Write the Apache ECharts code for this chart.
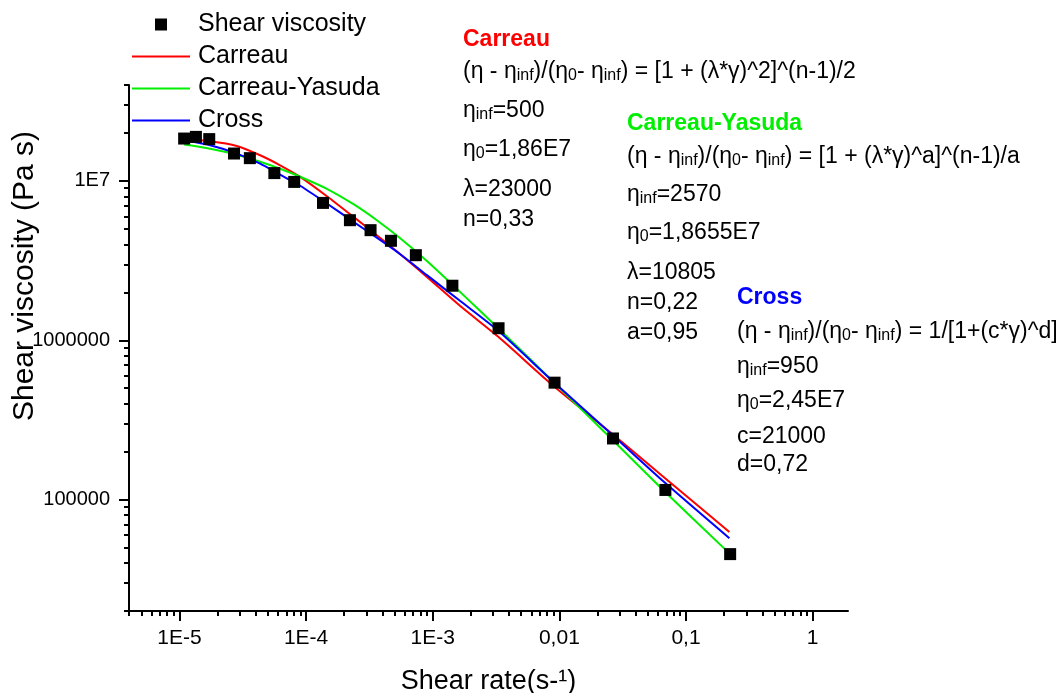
<!DOCTYPE html>
<html>
<head>
<meta charset="utf-8">
<script src="https://cdn.jsdelivr.net/npm/echarts@6/dist/echarts.min.js"></script>
<style>
  html, body { margin: 0; padding: 0; background: #fff; }
  #chart { width: 1056px; height: 693px; }
</style>
</head>
<body>
<div id="chart"></div>
<script>
// measured points
var shearRate = [1.09e-5, 1.35e-5, 1.72e-5, 2.70e-5, 3.60e-5, 5.62e-5, 8.06e-5, 1.36e-4, 2.22e-4,
  3.23e-4, 4.68e-4, 7.36e-4, 1.43e-3, 3.31e-3, 9.16e-3, 2.65e-2, 6.87e-2, 0.223];
var shearViscosity = [1.845e7, 1.89e7, 1.83e7, 1.486e7, 1.39e7, 1.12e7, 9.86e6, 7.28e6, 5.67e6,
  4.91e6, 4.21e6, 3.42e6, 2.20e6, 1.19e6, 5.42e5, 2.42e5, 1.15e5, 4.55e4];

// fit curves
var fitRate = [1.09e-5, 1.75e-5, 2.84e-5, 4.34e-5, 6.24e-5, 8.98e-5, 1.46e-4, 2.37e-4, 3.62e-4,
  5.54e-4, 9.0e-4, 1.65e-3, 3.31e-3, 9.0e-3, 2.68e-2, 6.65e-2, 0.22];
var carreau = [1.825e7, 1.774e7, 1.658e7, 1.449e7, 1.254e7, 1.06e7, 8.02e6, 5.95e6, 4.566e6,
  3.47e6, 2.50e6, 1.639e6, 1.047e6, 5.16e5, 2.544e5, 1.388e5, 6.27e4];
var carreauYasuda = [1.691e7, 1.592e7, 1.46e7, 1.319e7, 1.193e7, 1.063e7, 8.93e6, 7.145e6, 5.67e6,
  4.37e6, 3.14e6, 2.005e6, 1.184e6, 5.47e5, 2.333e5, 1.142e5, 4.60e4];
var cross = [1.80e7, 1.674e7, 1.485e7, 1.285e7, 1.095e7, 9.33e6, 7.22e6, 5.53e6, 4.405e6,
  3.47e6, 2.564e6, 1.762e6, 1.142e6, 5.47e5, 2.508e5, 1.30e5, 5.73e4];

// axes
var xMajor = [1e-5, 1e-4, 1e-3, 1e-2, 1e-1, 1];
var xTickLabels = ['1E-5', '1E-4', '1E-3', '0,01', '0,1', '1'];
var yMajor = [1e5, 1e6, 1e7];
var yTickLabels = ['100000', '1000000', '1E7'];
var xMin = 4e-6, xMax = 1.9, yMin = 2e4, yMax = 4e7;

function minorTicks(lo, hi) {
  var out = [];
  for (var e = -8; e <= 8; e++) {
    for (var k = 2; k <= 9; k++) {
      var v = k * Math.pow(10, e);
      if (v >= lo * 0.999 && v <= hi * 1.001) out.push(v);
    }
  }
  return out;
}
var xMinor = minorTicks(xMin, xMax);
var yMinor = minorTicks(yMin, yMax);

function pairs(xs, ys) {
  return xs.map(function (x, i) { return [x, ys[i]]; });
}

var chart = echarts.init(document.getElementById('chart'));
var font = "'Liberation Sans', Arial, sans-serif";

var axisLine = { show: true, lineStyle: { color: '#000', width: 2 } };

// annotation blocks: [text, y], _{..} marks a subscript
var carreauText = [
  ['(η - η_{inf})/(η_{0}- η_{inf}) = [1 + (λ*γ)^2]^(n-1)/2', 72],
  ['η_{inf}=500', 111],
  ['η_{0}=1,86E7', 150],
  ['λ=23000', 190],
  ['n=0,33', 220]
];
var yasudaText = [
  ['(η - η_{inf})/(η_{0}- η_{inf}) = [1 + (λ*γ)^a]^(n-1)/a', 157],
  ['η_{inf}=2570', 195],
  ['η_{0}=1,8655E7', 233],
  ['λ=10805', 273],
  ['n=0,22', 303],
  ['a=0,95', 333]
];
var crossText = [
  ['(η - η_{inf})/(η_{0}- η_{inf}) = 1/[1+(c*γ)^d]', 332],
  ['η_{inf}=950', 367],
  ['η_{0}=2,45E7', 401],
  ['c=21000', 437],
  ['d=0,72', 465]
];

function toRich(str) {
  var parts = str.split(/_\{([^}]*)\}/);
  return parts.map(function (p, i) {
    if (!p) return '';
    return i % 2 ? '{s|' + p + '}' : '{m|' + p + '}';
  }).join('');
}

var richStyle = {
  m: { fontSize: 23, fontFamily: font, lineHeight: 24, verticalAlign: 'top', color: '#000' },
  s: { fontSize: 16, fontFamily: font, lineHeight: 10, padding: [16, 0, 0, 0], verticalAlign: 'bottom', color: '#000' }
};

function block(x, title, color, titleY, lines) {
  var els = [{
    type: 'text', x: x, y: titleY,
    style: { text: title, fill: color, font: 'bold 23px ' + font, verticalAlign: 'middle' }
  }];
  lines.forEach(function (l) {
    els.push({
      type: 'text', x: x, y: l[1],
      style: { text: toRich(l[0]), fill: '#000', font: '23px ' + font, verticalAlign: 'middle', rich: richStyle }
    });
  });
  return els;
}

var hideDot = { opacity: 0 };

var option = {
  backgroundColor: '#fff',
  animation: false,
  grid: { left: 129, top: 85, right: 208, bottom: 82, outerBoundsMode: 'none' },
  legend: {
    orient: 'vertical', left: 126, top: 7,
    itemWidth: 58, itemHeight: 15, itemGap: 7,
    textStyle: { fontFamily: font, fontSize: 25, color: '#000', padding: [0, 0, 0, 3] },
    data: [
      { name: 'Shear viscosity' },
      { name: 'Carreau', itemStyle: hideDot },
      { name: 'Carreau-Yasuda', itemStyle: hideDot },
      { name: 'Cross', itemStyle: hideDot }
    ]
  },
  xAxis: [{
    type: 'log', min: xMin, max: xMax, position: 'bottom',
    axisLine: axisLine,
    axisTick: { show: true, customValues: xMajor, length: 10, lineStyle: { color: '#000', width: 2 } },
    axisLabel: {
      customValues: xMajor, margin: 17, color: '#000', fontFamily: font, fontSize: 21,
      formatter: function (v) { return xTickLabels[Math.round(Math.log10(v)) + 5]; }
    },
    splitLine: { show: false },
    name: 'Shear rate(s-¹)', nameLocation: 'middle', nameGap: 57,
    nameTextStyle: { fontFamily: font, fontSize: 27, color: '#000' }
  }, {
    type: 'log', min: xMin, max: xMax, position: 'bottom',
    axisLine: { show: false },
    axisTick: { show: true, customValues: xMinor, length: 5, lineStyle: { color: '#000', width: 2 } },
    axisLabel: { show: false },
    splitLine: { show: false }
  }],
  yAxis: [{
    type: 'log', min: yMin, max: yMax, position: 'left',
    axisLine: axisLine,
    axisTick: { show: true, customValues: yMajor, length: 10, lineStyle: { color: '#000', width: 2 } },
    axisLabel: {
      customValues: yMajor, margin: 19, color: '#000', fontFamily: font, fontSize: 20,
      formatter: function (v) { return yTickLabels[Math.round(Math.log10(v)) - 5]; }
    },
    splitLine: { show: false }
  }, {
    type: 'log', min: yMin, max: yMax, position: 'left',
    axisLine: { show: false },
    axisTick: { show: true, customValues: yMinor, length: 5, lineStyle: { color: '#000', width: 2 } },
    axisLabel: { show: false },
    splitLine: { show: false }
  }],
  graphic: [].concat(
    [{
      type: 'text', x: 25, y: 276, rotation: Math.PI / 2,
      style: { text: 'Shear viscosity (Pa s)', font: '30px ' + font, fill: '#000', align: 'center', verticalAlign: 'middle' }
    }],
    block(463, 'Carreau', '#ff0000', 40, carreauText),
    block(627, 'Carreau-Yasuda', '#00ee00', 124, yasudaText),
    block(737, 'Cross', '#0000ff', 298, crossText)
  ),
  series: [
    {
      name: 'Carreau', type: 'line', data: pairs(fitRate, carreau),
      smooth: 0.25, symbol: 'none',
      lineStyle: { color: '#ff0000', width: 2 }, itemStyle: { color: '#ff0000' }
    },
    {
      name: 'Carreau-Yasuda', type: 'line', data: pairs(fitRate, carreauYasuda),
      smooth: 0.25, symbol: 'none',
      lineStyle: { color: '#00ee00', width: 2 }, itemStyle: { color: '#00ee00' }
    },
    {
      name: 'Cross', type: 'line', data: pairs(fitRate, cross),
      smooth: 0.25, symbol: 'none',
      lineStyle: { color: '#0000ff', width: 2 }, itemStyle: { color: '#0000ff' }
    },
    {
      name: 'Shear viscosity', type: 'line', data: pairs(shearRate, shearViscosity),
      symbol: 'rect', symbolSize: 12, showAllSymbol: true, z: 5,
      lineStyle: { width: 0, opacity: 0 }, itemStyle: { color: '#000' }
    }
  ]
};
chart.setOption(option);
</script>
</body>
</html>
